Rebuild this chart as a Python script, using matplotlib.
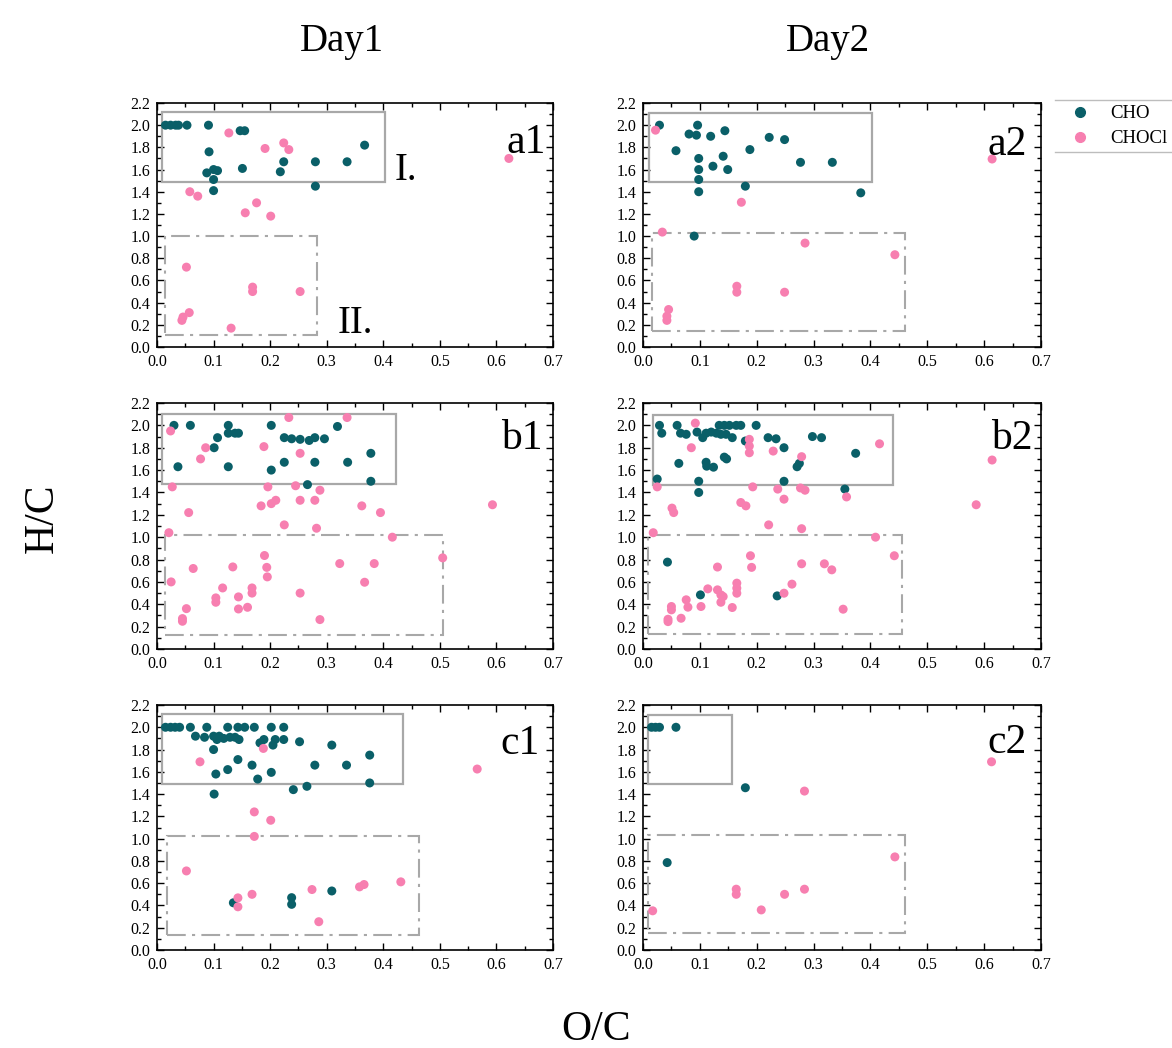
import matplotlib
matplotlib.use("Agg")
import matplotlib.pyplot as plt
from matplotlib.patches import Rectangle
from matplotlib.ticker import MultipleLocator
from matplotlib.lines import Line2D

plt.rcParams['font.family'] = ['Liberation Serif', 'DejaVu Serif']

# ---------------- data (O/C, H/C) ----------------
a1_cho_x = [0.015, 0.024, 0.033, 0.038, 0.053, 0.091, 0.092, 0.088, 0.100, 0.107, 0.100, 0.100,
            0.147, 0.155, 0.151, 0.218, 0.224, 0.280, 0.280, 0.336, 0.367]
a1_cho_y = [2.00, 2.00, 2.00, 2.00, 2.00, 2.00, 1.76, 1.57, 1.60, 1.59, 1.51, 1.41,
            1.95, 1.95, 1.61, 1.58, 1.67, 1.67, 1.45, 1.67, 1.82]
a1_chocl_x = [0.127, 0.191, 0.224, 0.233, 0.058, 0.072, 0.176, 0.156, 0.201, 0.622,
              0.052, 0.057, 0.046, 0.044, 0.169, 0.169, 0.131, 0.253]
a1_chocl_y = [1.93, 1.79, 1.84, 1.78, 1.40, 1.36, 1.30, 1.21, 1.18, 1.70,
              0.72, 0.31, 0.27, 0.24, 0.54, 0.50, 0.17, 0.50]

a2_cho_x = [0.029, 0.058, 0.081, 0.094, 0.096, 0.098, 0.098, 0.098, 0.098, 0.119, 0.123,
            0.141, 0.144, 0.149, 0.188, 0.180, 0.222, 0.249, 0.277, 0.333, 0.383, 0.090]
a2_cho_y = [2.00, 1.77, 1.92, 1.91, 2.00, 1.70, 1.60, 1.51, 1.40, 1.90, 1.63,
            1.72, 1.95, 1.60, 1.78, 1.45, 1.89, 1.87, 1.665, 1.665, 1.39, 1.00]
a2_chocl_x = [0.022, 0.173, 0.034, 0.285, 0.443, 0.165, 0.165, 0.249, 0.045, 0.042, 0.042, 0.614]
a2_chocl_y = [1.955, 1.305, 1.036, 0.937, 0.832, 0.548, 0.494, 0.494, 0.338, 0.278, 0.24, 1.695]

b1_cho_x = [0.030, 0.059, 0.037, 0.101, 0.107, 0.126, 0.126, 0.138, 0.144, 0.126, 0.202, 0.202,
            0.225, 0.225, 0.238, 0.253, 0.269, 0.279, 0.279, 0.296, 0.266, 0.319, 0.337, 0.378, 0.378]
b1_cho_y = [2.00, 2.00, 1.63, 1.80, 1.89, 2.00, 1.93, 1.93, 1.93, 1.63, 2.00, 1.60,
            1.89, 1.67, 1.88, 1.875, 1.865, 1.89, 1.67, 1.88, 1.47, 1.99, 1.67, 1.75, 1.50]
b1_chocl_x = [0.024, 0.027, 0.021, 0.056, 0.077, 0.086, 0.189, 0.196, 0.233, 0.245, 0.253, 0.253,
              0.184, 0.202, 0.210, 0.225, 0.279, 0.288, 0.282, 0.336, 0.362, 0.395, 0.416, 0.593,
              0.505, 0.190, 0.194, 0.195, 0.134, 0.064, 0.025, 0.116, 0.104, 0.104, 0.144, 0.144,
              0.160, 0.168, 0.168, 0.253, 0.052, 0.045, 0.045, 0.288, 0.323, 0.384, 0.367]
b1_chocl_y = [1.95, 1.45, 1.04, 1.22, 1.70, 1.80, 1.81, 1.45, 2.07, 1.46, 1.75, 1.33,
              1.28, 1.30, 1.33, 1.11, 1.33, 1.42, 1.08, 2.07, 1.28, 1.22, 1.00, 1.29,
              0.815, 0.836, 0.73, 0.645, 0.734, 0.72, 0.60, 0.546, 0.457, 0.418, 0.466, 0.358,
              0.373, 0.546, 0.50, 0.50, 0.361, 0.272, 0.248, 0.263, 0.764, 0.764, 0.597]

b2_cho_x = [0.029, 0.033, 0.025, 0.060, 0.066, 0.076, 0.063, 0.095, 0.098, 0.098, 0.105, 0.111,
            0.120, 0.129, 0.137, 0.134, 0.143, 0.152, 0.164, 0.172, 0.146, 0.157, 0.111, 0.112,
            0.124, 0.143, 0.147, 0.180, 0.199, 0.220, 0.234, 0.248, 0.271, 0.275, 0.248, 0.298,
            0.314, 0.355, 0.374, 0.043, 0.101, 0.236]
b2_cho_y = [2.00, 1.93, 1.52, 2.00, 1.93, 1.92, 1.66, 1.94, 1.50, 1.40, 1.89, 1.93,
            1.94, 1.93, 1.92, 2.00, 2.00, 2.00, 2.00, 2.00, 1.92, 1.89, 1.67, 1.635,
            1.626, 1.716, 1.70, 1.86, 2.00, 1.89, 1.88, 1.80, 1.63, 1.66, 1.50, 1.90,
            1.89, 1.43, 1.75, 0.777, 0.484, 0.475]
b2_chocl_x = [0.092, 0.025, 0.018, 0.051, 0.054, 0.085, 0.187, 0.187, 0.187, 0.193, 0.229, 0.237,
              0.248, 0.172, 0.181, 0.221, 0.279, 0.277, 0.285, 0.279, 0.358, 0.416, 0.614, 0.586,
              0.409, 0.442, 0.189, 0.191, 0.131, 0.279, 0.319, 0.332, 0.114, 0.131, 0.137, 0.137,
              0.141, 0.165, 0.165, 0.165, 0.157, 0.102, 0.076, 0.079, 0.050, 0.050, 0.067, 0.044,
              0.044, 0.248, 0.262, 0.352]
b2_chocl_y = [2.02, 1.45, 1.04, 1.26, 1.22, 1.80, 1.875, 1.815, 1.755, 1.45, 1.77, 1.43,
              1.34, 1.31, 1.28, 1.11, 1.72, 1.44, 1.42, 1.076, 1.36, 1.835, 1.69, 1.29,
              1.00, 0.834, 0.834, 0.73, 0.733, 0.762, 0.762, 0.708, 0.538, 0.529, 0.484, 0.418,
              0.469, 0.589, 0.544, 0.499, 0.371, 0.38, 0.44, 0.374, 0.38, 0.35, 0.275, 0.266,
              0.245, 0.499, 0.58, 0.356]

c1_cho_x = [0.015, 0.024, 0.032, 0.040, 0.059, 0.088, 0.125, 0.143, 0.155, 0.172, 0.202, 0.224,
            0.068, 0.084, 0.100, 0.110, 0.118, 0.129, 0.138, 0.145, 0.106, 0.182, 0.189, 0.205,
            0.209, 0.224, 0.252, 0.309, 0.376, 0.100, 0.143, 0.104, 0.125, 0.168, 0.178, 0.202,
            0.279, 0.335, 0.376, 0.241, 0.265, 0.101, 0.135, 0.238, 0.238, 0.309]
c1_cho_y = [2.00, 2.00, 2.00, 2.00, 2.00, 2.00, 2.00, 2.00, 2.00, 2.00, 2.00, 2.00,
            1.92, 1.91, 1.92, 1.92, 1.90, 1.91, 1.91, 1.89, 1.89, 1.86, 1.89, 1.84,
            1.89, 1.89, 1.87, 1.84, 1.75, 1.80, 1.71, 1.58, 1.62, 1.66, 1.535, 1.595,
            1.66, 1.66, 1.50, 1.44, 1.47, 1.40, 0.424, 0.47, 0.41, 0.53]
c1_chocl_x = [0.076, 0.188, 0.172, 0.201, 0.172, 0.566, 0.052, 0.143, 0.143, 0.168, 0.274,
              0.286, 0.358, 0.366, 0.431]
c1_chocl_y = [1.69, 1.81, 1.24, 1.165, 1.02, 1.625, 0.71, 0.468, 0.388, 0.50, 0.543,
              0.254, 0.567, 0.588, 0.612]

c2_cho_x = [0.015, 0.022, 0.029, 0.058, 0.180, 0.0425]
c2_cho_y = [2.00, 2.00, 2.00, 2.00, 1.457, 0.785]
c2_chocl_x = [0.284, 0.613, 0.443, 0.017, 0.164, 0.164, 0.208, 0.249, 0.284]
c2_chocl_y = [1.427, 1.69, 0.836, 0.352, 0.546, 0.50, 0.36, 0.50, 0.546]

panel_names = ['a1', 'a2', 'b1', 'b2', 'c1', 'c2']
series_names = ['CHO', 'CHOCl']
col_titles = ['Day1', 'Day2']
x_label = 'O/C'
y_label = 'H/C'

# region boxes (x0, x1, y0, y1) in data units
region_I = {'a1': (0.009, 0.403, 1.49, 2.116), 'a2': (0.010, 0.402, 1.485, 2.114),
            'b1': (0.009, 0.423, 1.478, 2.104), 'b2': (0.018, 0.440, 1.465, 2.093),
            'c1': (0.009, 0.434, 1.49, 2.116), 'c2': (0.009, 0.156, 1.487, 2.107)}
region_II = {'a1': (0.014, 0.283, 0.105, 1.00), 'a2': (0.016, 0.461, 0.144, 1.027),
             'b1': (0.015, 0.505, 0.122, 1.018), 'b2': (0.008, 0.456, 0.135, 1.016),
             'c1': (0.018, 0.464, 0.134, 1.02), 'c2': (0.009, 0.461, 0.149, 1.033)}

data = {
    'a1': (a1_cho_x, a1_cho_y, a1_chocl_x, a1_chocl_y),
    'a2': (a2_cho_x, a2_cho_y, a2_chocl_x, a2_chocl_y),
    'b1': (b1_cho_x, b1_cho_y, b1_chocl_x, b1_chocl_y),
    'b2': (b2_cho_x, b2_cho_y, b2_chocl_x, b2_chocl_y),
    'c1': (c1_cho_x, c1_cho_y, c1_chocl_x, c1_chocl_y),
    'c2': (c2_cho_x, c2_cho_y, c2_chocl_x, c2_chocl_y),
}

# ---------------- styling ----------------
W, H = 1172, 1048
TEAL = '#0a5f68'
PINK = '#f77fb0'
BOXC = '#a8a8a8'

label_pos = {'a1': (0.653, 1.75), 'a2': (0.640, 1.73), 'b1': (0.645, 1.785),
             'b2': (0.649, 1.79), 'c1': (0.641, 1.76), 'c2': (0.640, 1.77)}

fig = plt.figure(figsize=(W / 100, H / 100), dpi=100)

col_x = [(157, 553), (643, 1041)]
row_y = [(103, 347), (403, 649), (705, 950)]

for i, name in enumerate(panel_names):
    r, c = divmod(i, 2)
    x0, x1 = col_x[c]
    y0, y1 = row_y[r]
    ax = fig.add_axes([x0 / W, 1 - y1 / H, (x1 - x0) / W, (y1 - y0) / H])
    cx, cy, lx, ly = data[name]
    ax.scatter(cx, cy, s=42, color=TEAL, edgecolors='none', zorder=3)
    ax.scatter(lx, ly, s=42, color=PINK, edgecolors='none', zorder=3)

    bx0, bx1, by0, by1 = region_I[name]
    ax.add_patch(Rectangle((bx0, by0), bx1 - bx0, by1 - by0, fill=False,
                           edgecolor=BOXC, linewidth=1.6, zorder=2))
    bx0, bx1, by0, by1 = region_II[name]
    ax.add_patch(Rectangle((bx0, by0), bx1 - bx0, by1 - by0, fill=False,
                           edgecolor=BOXC, linewidth=1.5, zorder=2,
                           linestyle=(0, (9, 3, 1.5, 3))))

    ax.set_xlim(0, 0.7)
    ax.set_ylim(0, 2.2)
    ax.xaxis.set_major_locator(MultipleLocator(0.1))
    ax.xaxis.set_minor_locator(MultipleLocator(0.05))
    ax.yaxis.set_major_locator(MultipleLocator(0.2))
    ax.yaxis.set_minor_locator(MultipleLocator(0.1))
    ax.xaxis.set_major_formatter(plt.FuncFormatter(lambda v, p: f'{v:.1f}'))
    ax.yaxis.set_major_formatter(plt.FuncFormatter(lambda v, p: f'{v:.1f}'))
    ax.tick_params(which='both', direction='in', top=True, right=True, labelsize=11.5,
                   width=1.0)
    ax.tick_params(axis='x', pad=5)
    ax.tick_params(axis='y', pad=5)
    ax.tick_params(which='major', length=5)
    ax.tick_params(which='minor', length=3)
    for sp in ax.spines.values():
        sp.set_linewidth(1.2)

    lxp, lyp = label_pos[name]
    ax.text(lxp, lyp, name, fontsize=30, ha='center', va='baseline', zorder=4)
    if name == 'a1':
        ax.text(0.42, 1.51, 'I.', fontsize=28, ha='left', va='baseline')
        ax.text(0.32, 0.127, 'II.', fontsize=28, ha='left', va='baseline')

fig.text(342 / W, 1 - 42 / H, col_titles[0], fontsize=28, ha='center', va='center')
fig.text(828 / W, 1 - 42 / H, col_titles[1], fontsize=28, ha='center', va='center')
fig.text(42 / W, 1 - 518 / H, y_label, fontsize=30, ha='center', va='center', rotation=90)
fig.text(596 / W, 1 - 1030 / H, x_label, fontsize=30, ha='center', va='center')

# legend (frame drawn as two horizontal rules running off the right edge)
handles = [Line2D([], [], marker='o', linestyle='none', color=TEAL, markersize=7),
           Line2D([], [], marker='o', linestyle='none', color=PINK, markersize=7)]
leg = fig.legend(handles, series_names, loc='upper left',
                 bbox_to_anchor=(1067 / W, 1 - 105 / H), frameon=False, fontsize=13.5,
                 handletextpad=0.9, borderpad=0.0, labelspacing=0.42,
                 handlelength=1.4, borderaxespad=0)
for yy in (100, 152):
    fig.add_artist(Line2D([1055 / W, 1.0], [1 - yy / H, 1 - yy / H],
                          transform=fig.transFigure, color='#bdbdbd', linewidth=1.0))

fig.savefig('out.png', dpi=100)
